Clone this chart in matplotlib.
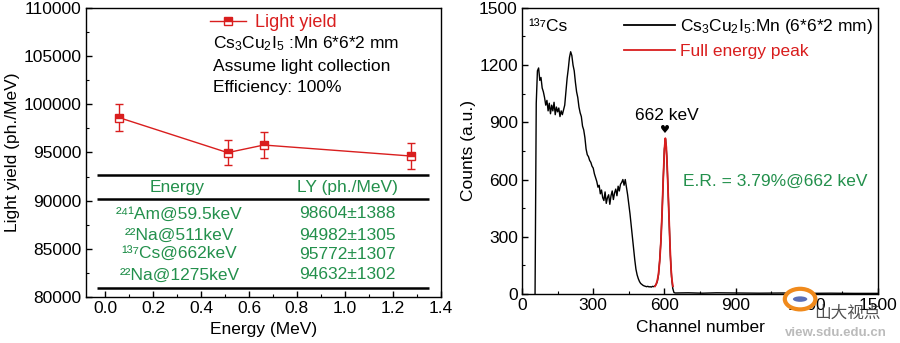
import matplotlib.pyplot as plt
import numpy as np
from matplotlib.lines import Line2D
from matplotlib.patches import Circle, Ellipse

plt.rcParams['font.family'] = ['Liberation Sans', 'DejaVu Sans']
plt.rcParams['mathtext.fontset'] = 'custom'
plt.rcParams['mathtext.rm'] = 'Liberation Sans'
plt.rcParams['mathtext.it'] = 'Liberation Sans:italic'
plt.rcParams['font.size'] = 12.5

# Light yield vs gamma energy
energy_mev = [0.0595, 0.511, 0.662, 1.275]
light_yield = [98604, 94982, 95772, 94632]
ly_err = [1388, 1305, 1307, 1302]
source_labels = ['\u00b2\u2074\u00b9Am@59.5keV', '\u00b2\u00b2Na@511keV',
                 '\u00b9\u00b3\u2077Cs@662keV', '\u00b2\u00b2Na@1275keV']

# 137Cs pulse height spectrum
channel = list(range(55, 645, 5))
counts = [0, 1000, 1170, 1185, 1120, 1135, 1080, 1060, 1030, 990,
          1015, 960, 1000, 945, 990, 960, 1005, 940, 980, 955,
          975, 930, 960, 940, 965, 990, 1060, 1130, 1180, 1240,
          1270, 1250, 1200, 1170, 1110, 1060, 1030, 980, 950, 930,
          880, 860, 820, 760, 730, 720, 700, 690, 670, 660,
          630, 610, 590, 560, 570, 525, 545, 505, 490, 535,
          475, 505, 520, 470, 515, 540, 495, 530, 550, 515,
          565, 540, 575, 585, 600, 570, 600, 560, 520, 470,
          420, 360, 300, 240, 180, 130, 100, 80, 65, 55,
          50, 45, 42, 40, 38, 40, 37, 38, 36, 40,
          38, 42, 50, 65, 100, 175, 275, 420, 600, 760,
          810, 720, 560, 380, 200, 90, 30, 8]
tail_channel = [645, 700, 760, 820, 900, 1000, 1100, 1200, 1300, 1400, 1500]
tail_counts = [5, 6, 4, 6, 5, 4, 5, 3, 4, 3, 3]

peak_channel = [560, 565, 570, 575, 580, 585, 590, 595, 600, 604,
                608, 612, 616, 620, 624, 628, 632, 636]
peak_counts = [40, 50, 70, 105, 170, 270, 420, 600, 760, 817,
               770, 660, 520, 380, 240, 130, 70, 40]

red = '#d91e1e'
green = '#23904c'

fig = plt.figure(figsize=(9, 3.43), dpi=100)
ax1 = fig.add_axes([0.0956, 0.134, 0.394, 0.843])
ax2 = fig.add_axes([0.580, 0.143, 0.3956, 0.834])

# ---- left panel ----
ax1.errorbar(energy_mev, light_yield, yerr=ly_err, color=red, lw=1,
             marker='s', ms=6, fillstyle='top', markerfacecoloralt='white',
             mec=red, capsize=3, elinewidth=1, capthick=1)
ax1.set_xlim(-0.08, 1.4)
ax1.set_ylim(80000, 110000)
ax1.set_xticks(np.arange(0, 1.41, 0.2))
ax1.set_xticks(np.arange(0.1, 1.4, 0.2), minor=True)
ax1.set_yticks(np.arange(80000, 110001, 5000))
ax1.set_yticks(np.arange(82500, 110000, 5000), minor=True)
ax1.set_xlabel('Energy (MeV)', labelpad=4)
ax1.set_ylabel('Light yield (ph./MeV)', labelpad=3)

handle = Line2D([], [], color=red, lw=1, marker='s', ms=6, fillstyle='top',
                markerfacecoloralt='white', mec=red)
leg = ax1.legend([handle], ['Light yield'], loc='center left',
                 bbox_to_anchor=(0.35, 0.948), frameon=False,
                 borderpad=0, borderaxespad=0, handlelength=2.0,
                 handletextpad=0.5, fontsize=13)
for t in leg.get_texts():
    t.set_color(red)

ax1.text(0.358, 0.875, r'Cs$_3$Cu$_2$I$_5$ :Mn 6*6*2 mm',
         transform=ax1.transAxes, va='center')
ax1.text(0.358, 0.799, 'Assume light collection',
         transform=ax1.transAxes, va='center')
ax1.text(0.358, 0.723, 'Efficiency: 100%',
         transform=ax1.transAxes, va='center')

# table of light yields
ax1.hlines([92700, 90200, 80900], -0.035, 1.35, color='black', lw=1.8)
ax1.text(0.30, 91350, 'Energy', color=green, ha='center', va='center')
ax1.text(1.01, 91350, 'LY (ph./MeV)', color=green, ha='center', va='center')
row_y = [88630, 86400, 84380, 82300]
for lab, ly, err, yy in zip(source_labels, light_yield, ly_err, row_y):
    ax1.text(0.31, yy, lab, color=green, ha='center', va='center')
    ax1.text(1.01, yy, f'{ly}\u00b1{err}', color=green, ha='center', va='center')

# ---- right panel ----
ax2.plot(channel + tail_channel, counts + tail_counts, color='black', lw=1)
ax2.plot(peak_channel, peak_counts, color=red, lw=1.3)
ax2.set_xlim(0, 1500)
ax2.set_ylim(0, 1500)
ax2.set_xticks(np.arange(0, 1501, 300))
ax2.set_xticks(np.arange(150, 1500, 300), minor=True)
ax2.set_yticks(np.arange(0, 1501, 300))
ax2.set_yticks(np.arange(150, 1500, 300), minor=True)
ax2.set_xlabel('Channel number', labelpad=5)
ax2.set_ylabel('Counts (a.u.)', labelpad=2)

ax2.legend([Line2D([], [], color='black', lw=1.3),
            Line2D([], [], color=red, lw=1.3)],
           [r'Cs$_3$Cu$_2$I$_5$:Mn (6*6*2 mm)', 'Full energy peak'],
           loc='upper right', bbox_to_anchor=(1.0, 0.985), frameon=False,
           borderpad=0, borderaxespad=0.3, handlelength=2.9,
           handletextpad=0.3, labelspacing=0.45, fontsize=12.5,
           labelcolor=['black', red])

ax2.text(27, 1403, '\u00b9\u00b3\u2077Cs', va='center')
ax2.text(612, 935, '662 keV', ha='center', va='center')
ax2.text(604, 860, '\u2665', ha='center', va='center', fontsize=8,
         family=['DejaVu Sans'])
ax2.text(677, 593, 'E.R. = 3.79%@662 keV', color=green, va='center')

for ax in (ax1, ax2):
    ax.tick_params(which='both', direction='in', top=False, right=False)
    ax.tick_params(which='major', length=4, width=1, pad=3)
    ax.tick_params(which='minor', length=2, width=0.8)
    for s in ax.spines.values():
        s.set_linewidth(1)

# site watermark
fig.add_artist(Ellipse((0.889, 0.128), 0.034, 0.06, transform=fig.transFigure,
                       facecolor='white', edgecolor='#f08a1c', lw=3))
fig.add_artist(Circle((0.889, 0.128), 0.008, transform=fig.transFigure,
                      facecolor='#5a6fb8', edgecolor='none'))
fig.text(0.905, 0.088, '山大视点', family=['Noto Sans CJK SC'], fontsize=12,
         color='#333333', alpha=0.85, va='center')
fig.text(0.872, 0.028, 'view.sdu.edu.cn', fontsize=9.5, color='#bbbbbb',
         va='center', fontweight='bold')

fig.savefig('out.png', dpi=100)
